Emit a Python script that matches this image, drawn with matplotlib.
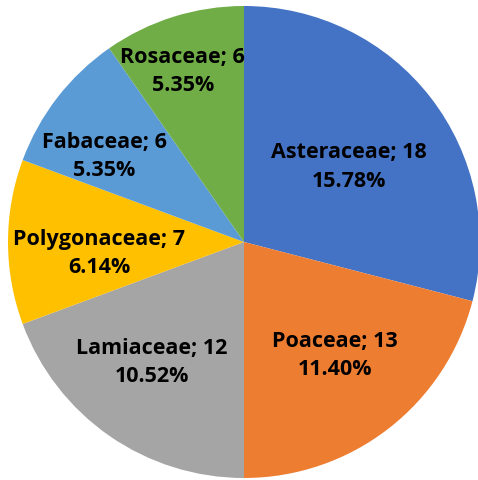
import matplotlib
matplotlib.use("Agg")
import matplotlib.pyplot as plt
import numpy as np

families = ["Asteraceae", "Poaceae", "Lamiaceae", "Polygonaceae", "Fabaceae", "Rosaceae"]
counts = [18, 13, 12, 7, 6, 6]
percents = ["15.78%", "11.40%", "10.52%", "6.14%", "5.35%", "5.35%"]
colors = ["#4472C4", "#ED7D31", "#A5A5A5", "#FFC000", "#5B9BD5", "#70AD47"]

# label spots (x, y) in axes data units, like excel's best fit
label_pos = [(0.443, 0.322), (0.387, -0.477), (-0.391, -0.506),
             (-0.613, -0.043), (-0.591, 0.366), (-0.26, 0.728)]

W, H = 478, 481
fig = plt.figure(figsize=(W / 100, H / 100), dpi=100)
cx, cy, r = 244, 243, 236
ax = fig.add_axes([(cx - r) / W, (H - cy - r) / H, 2 * r / W, 2 * r / H])

ax.pie(counts, colors=colors, startangle=90, counterclock=False,
       radius=1, wedgeprops=dict(linewidth=0))
ax.set_xlim(-1, 1)
ax.set_ylim(-1, 1)
ax.set_aspect("equal")
ax.axis("off")

for name, n, p, (x, y) in zip(families, counts, percents, label_pos):
    ax.text(x, y, name + "; " + str(n) + "\n" + p, ha="center", va="center",
            fontsize=15.5, fontweight="bold", family="Open Sans", color="black",
            linespacing=1.45)

fig.savefig("out.png", dpi=100)
